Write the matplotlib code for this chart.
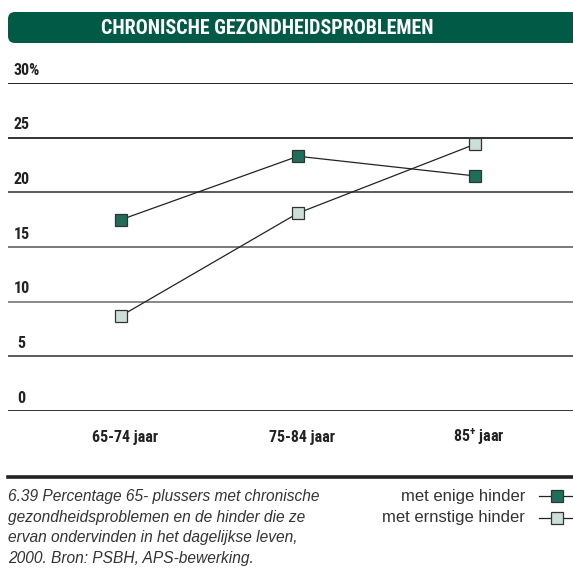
import matplotlib
matplotlib.use("Agg")
import matplotlib.pyplot as plt
import matplotlib.font_manager as fm
from matplotlib.patches import FancyBboxPatch
from matplotlib.lines import Line2D

# data
age_groups = ["65-74 jaar", "75-84 jaar", r"85$^{\mathbf{+}}$ jaar"]
enige_hinder = [17.5, 23.3, 21.5]
ernstige_hinder = [8.7, 18.1, 24.4]
y_ticks = [0, 5, 10, 15, 20, 25, 30]
y_labels = ["0", "5", "10", "15", "20", "25", "30%"]

title = "CHRONISCHE GEZONDHEIDSPROBLEMEN"
caption = ("6.39 Percentage 65- plussers met chronische\n"
           "gezondheidsproblemen en de hinder die ze\n"
           "ervan ondervinden in het dagelijkse leven,\n"
           "2000. Bron: PSBH, APS-bewerking.")
legend_labels = ["met enige hinder", "met ernstige hinder"]

green_dark = "#005a45"
marker_dark = "#1e6e5c"
marker_light = "#cbded8"
grid_cols = {0: "#333333", 5: "#5a5a5a", 10: "#888888", 15: "#7a7a7a",
             20: "#5a5a5a", 25: "#333333", 30: "#222222"}

# pick a condensed face for the headings if one is around
installed = {f.name for f in fm.fontManager.ttflist}
narrow_face, shrink = "Liberation Sans", 0.84
for cand in ["Liberation Sans Narrow", "Roboto Condensed", "DejaVu Sans Condensed",
             "Open Sans Condensed", "Noto Sans Condensed"]:
    if cand in installed:
        narrow_face, shrink = cand, 1.0
        break
narrow = [narrow_face, "DejaVu Sans"]
plain = ["Liberation Sans", "DejaVu Sans"]
plt.rcParams["mathtext.fontset"] = "custom"
plt.rcParams["mathtext.bf"] = narrow_face + ":bold"
plt.rcParams["mathtext.rm"] = narrow_face

W, H = 573, 581
fig = plt.figure(figsize=(W / 100, H / 100), dpi=100)

def fx(px):
    return px / W

def fy(py):
    return 1 - py / H

# title banner
banner = FancyBboxPatch((fx(8), fy(43)), fx(600) - fx(8), fy(12) - fy(43),
                        boxstyle="round,pad=0,rounding_size=0.012",
                        transform=fig.transFigure, facecolor=green_dark,
                        edgecolor="none")
fig.add_artist(banner)
fig.text(fx(267), fy(28), title, color="white", fontsize=14.4 * shrink,
         fontweight="bold", family=narrow, ha="center", va="center")

# plot area: y=0 at 411 px, y=30 at 83 px; categories at 121, 298, 475 px
ax_left, ax_right = 8, 573
ax = fig.add_axes([fx(ax_left), fy(411), fx(ax_right) - fx(ax_left), fy(83) - fy(411)])
ax.set_ylim(0, 30)
step = 177
ax.set_xlim(-(121 - ax_left) / step, (ax_right - 121) / step)
ax.axis("off")

for t, lab in zip(y_ticks, y_labels):
    ax.axhline(t, color=grid_cols[t], lw=1.4, zorder=1)
    lx = (17 if len(lab) == 1 else 14) - ax_left
    ax.text(lx / (ax_right - ax_left), t + 0.5, lab,
            transform=ax.get_yaxis_transform(),
            fontsize=11.5 * shrink, fontweight="bold", family=narrow,
            ha="left", va="bottom", color="#222222")

x = list(range(len(age_groups)))
ax.plot(x, enige_hinder, color="#222222", lw=0.9, marker="s", markersize=8.5,
        markerfacecolor=marker_dark, markeredgecolor="#333333",
        markeredgewidth=0.9, zorder=3, clip_on=False)
ax.plot(x, ernstige_hinder, color="#222222", lw=0.9, marker="s", markersize=8.5,
        markerfacecolor=marker_light, markeredgecolor="#333333",
        markeredgewidth=0.9, zorder=3, clip_on=False)

for xi, lab in zip(x, age_groups):
    ax.text(xi + 4 / step, -2.4, lab, fontsize=11.5 * shrink, fontweight="bold",
            family=narrow, ha="center", va="center", color="#222222")

# thick rule above the caption
fig.add_artist(Line2D([fx(8), fx(573)], [fy(477), fy(477)],
                      transform=fig.transFigure, color="#222222", lw=2.6))

fig.text(fx(8), fy(489), caption, fontsize=11.2, style="italic",
         family=plain, color="#333333", ha="left", va="top",
         linespacing=1.47)

# legend
for i, (lab, fc) in enumerate(zip(legend_labels, [marker_dark, marker_light])):
    yy = 496 + 21.5 * i
    fig.text(fx(525), fy(yy), lab, fontsize=12, family=plain,
             color="#333333", ha="right", va="center")
    fig.add_artist(Line2D([fx(539), fx(573)], [fy(yy), fy(yy)],
                          transform=fig.transFigure, color="#222222", lw=0.9))
    fig.add_artist(Line2D([fx(557)], [fy(yy)], transform=fig.transFigure,
                          marker="s", markersize=8, markerfacecolor=fc,
                          markeredgecolor="#333333", markeredgewidth=0.9,
                          linestyle="none"))

fig.savefig("out.png", dpi=100, facecolor="white")
